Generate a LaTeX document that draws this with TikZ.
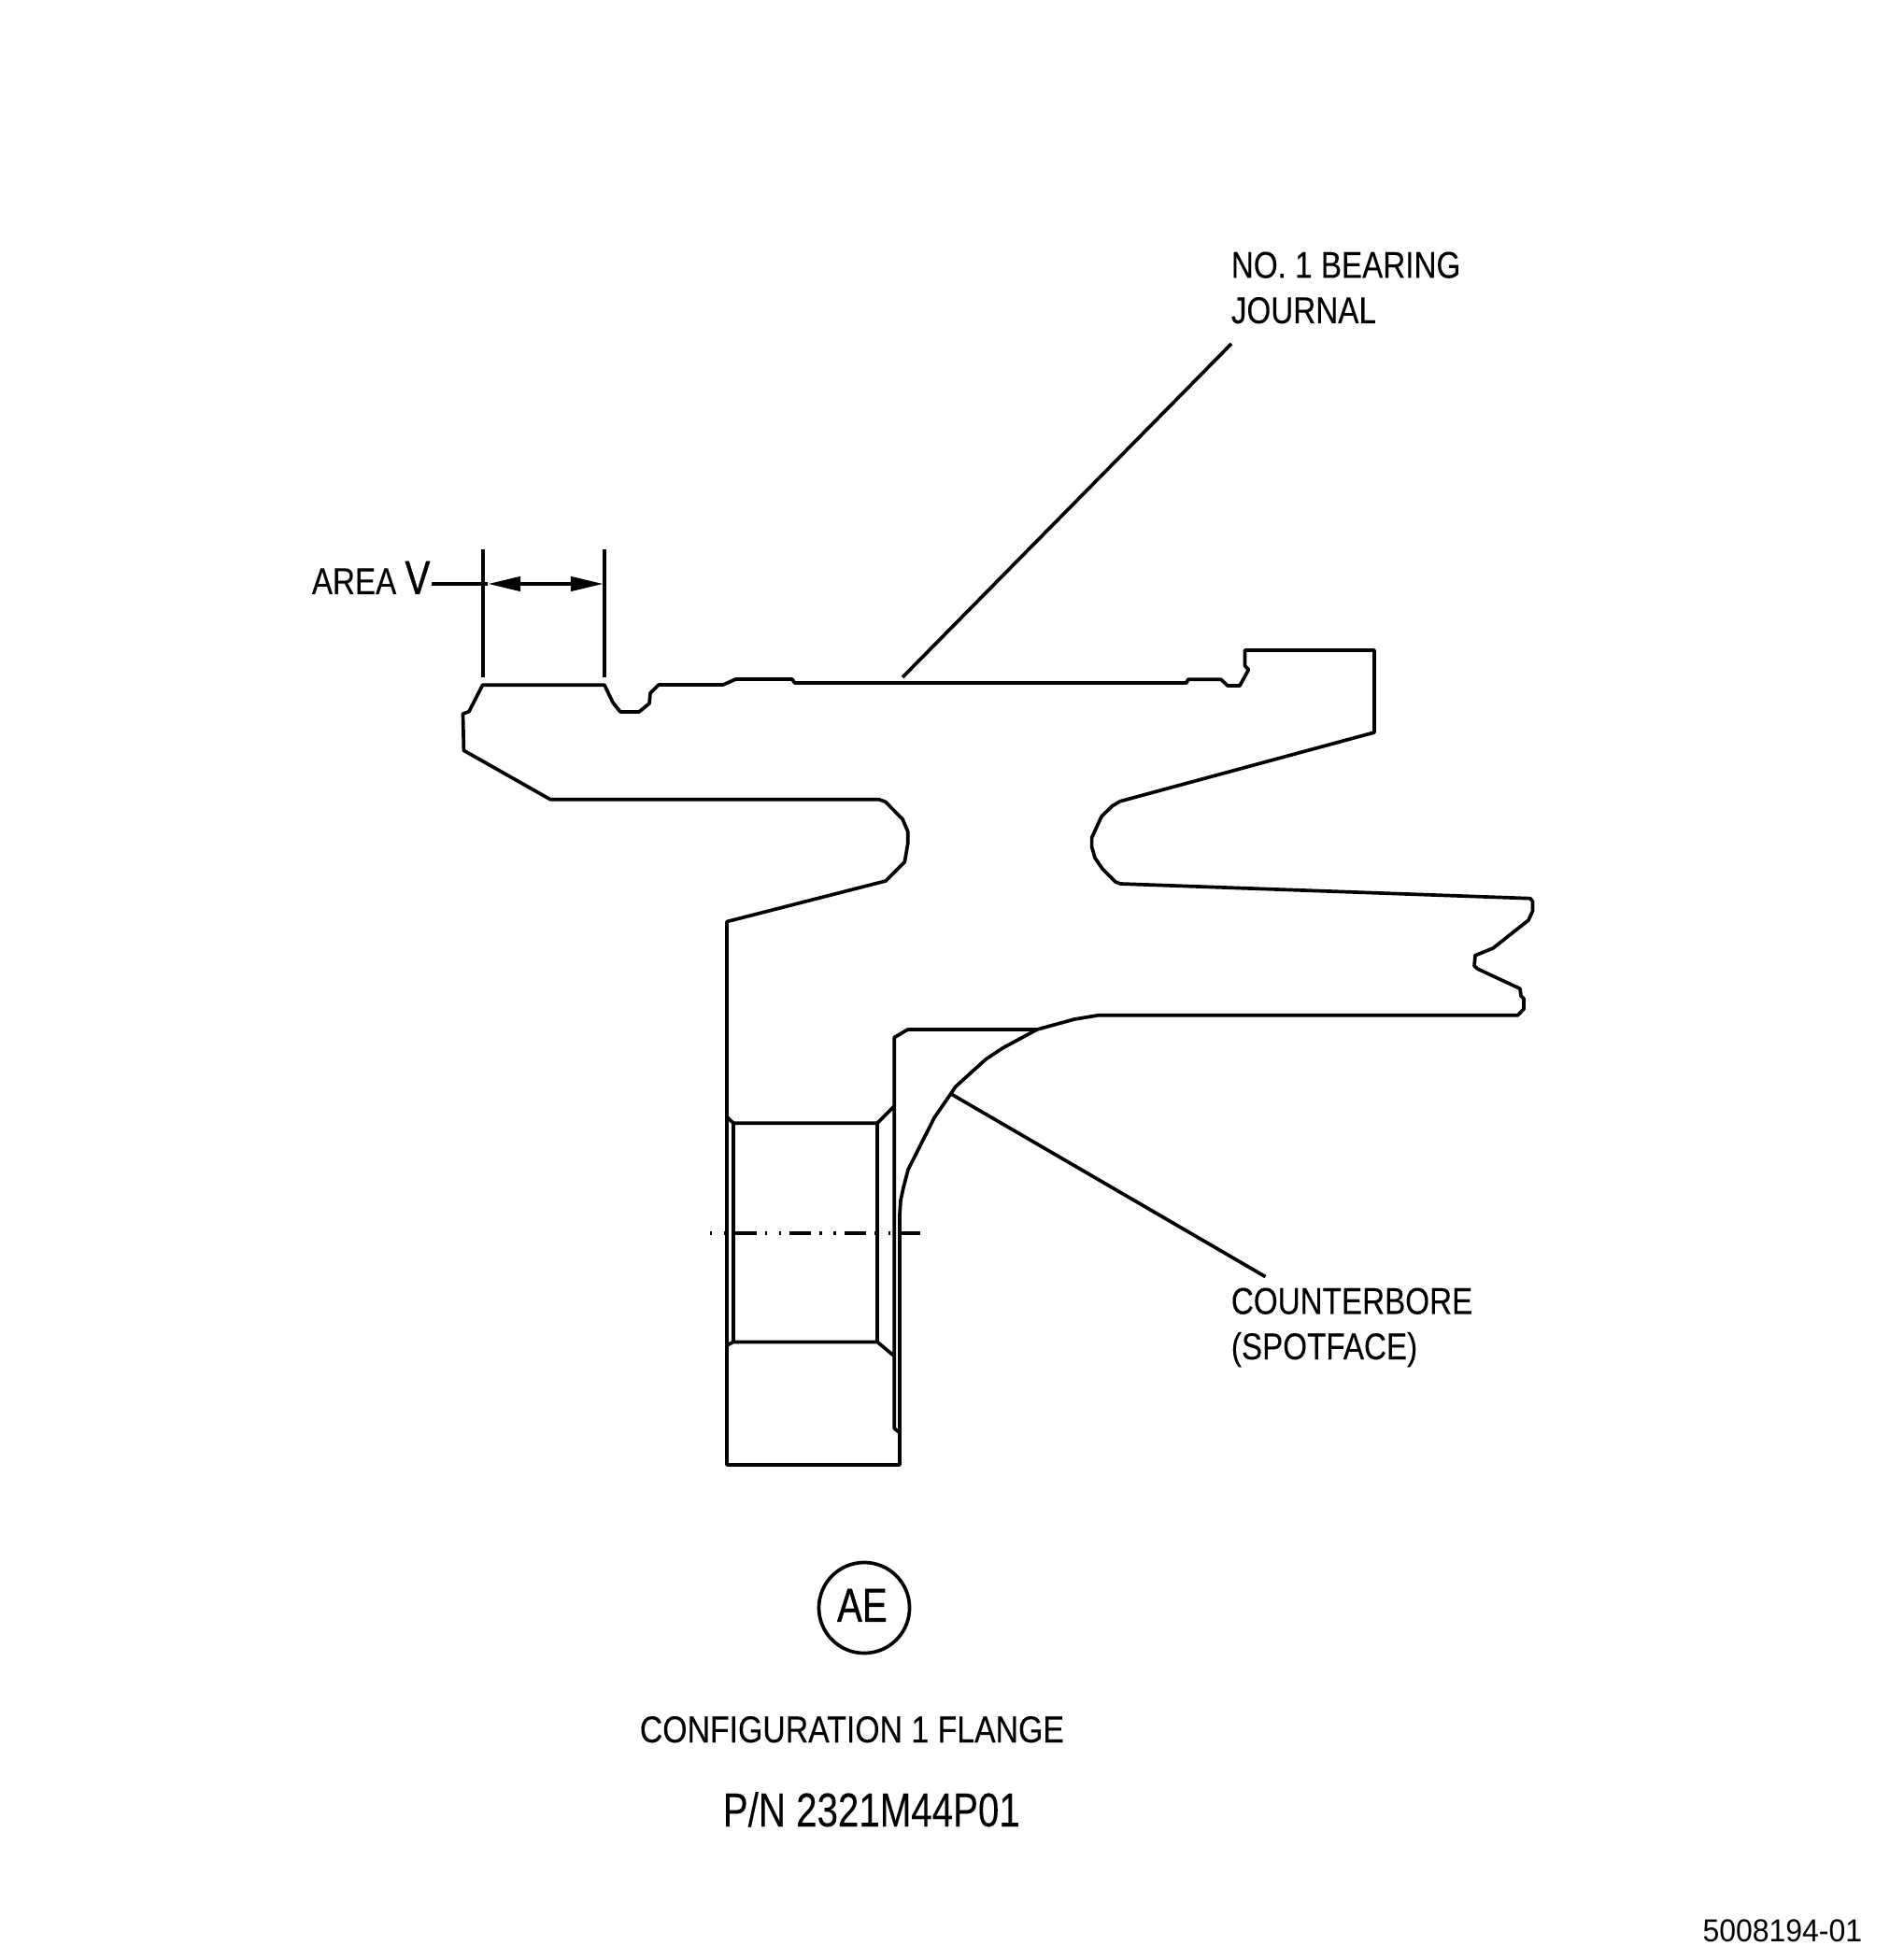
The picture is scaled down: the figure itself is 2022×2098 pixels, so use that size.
\documentclass[tikz,border=0pt]{standalone}
\usepackage{fontspec}
\usepackage{tikz}
\usetikzlibrary{arrows.meta}
\newfontfamily\drawfont{Liberation Sans}[FakeStretch=0.83,FakeBold=0.15]
\newfontfamily\flangefont{Liberation Sans}[FakeStretch=0.845,FakeBold=0.15]
\newfontfamily\partfont{Liberation Sans}[FakeStretch=0.79,FakeBold=0.1]
\newfontfamily\markfont{Liberation Sans}[FakeStretch=0.79,FakeBold=0.8]
\newfontfamily\figfont{Liberation Sans}[FakeStretch=0.94]
\newcommand{\notefont}{\drawfont\fontsize{11.38}{13.8}\selectfont}
\newcommand{\bigfont}{\partfont\fontsize{14.5}{17}\selectfont}
\newcommand{\tagfont}{\markfont\fontsize{14.5}{17}\selectfont}

\begin{document}
\begin{tikzpicture}[x=0.01cm,y=-0.01cm,line width=1.05pt,line join=round,
	note/.style={inner sep=0pt,anchor=base west,align=left,font=\notefont},
	dimtip/.style={{Triangle[length=3.5mm,width=1.5mm]}-{Triangle[length=3.5mm,width=1.5mm]}},
	heavy/.style={line width=1.4pt},
	centre/.style={line width=1pt,dash pattern=on 0.7pt off 3.5pt on 0.7pt off 2.6pt on 6.6pt off 2.6pt}]
	
	\useasboundingbox (0,0) rectangle (2022,2098);
	
	% flange section
	\draw (516.5,733.3) -- (647,733.3) -- (656,752) -- (664,762) -- (684,762) -- (695,753) -- (696,742) -- (705,733)
	-- (774,733) -- (787.5,727) -- (848,727) -- (850.5,731) -- (1270,731) -- (1271.6,727.3) -- (1307,727.3)
	-- (1314,734) -- (1327,734) -- (1336.5,716.7) -- (1332.5,712.7) -- (1332.5,696) -- (1471,696) -- (1471,784)
	-- (1199,857.7) -- (1190.5,862.7) -- (1179,874) -- (1168.6,896.7) -- (1168.6,906.7) -- (1172,918.3)
	-- (1180,930) -- (1194,944) -- (1199,946) -- (1638,961.7) -- (1640.5,965) -- (1640.5,975) -- (1636,985)
	-- (1598,1015) -- (1579,1022.7) -- (1578,1034) -- (1582,1037.3) -- (1627,1058.3) -- (1628,1066) -- (1631,1069)
	-- (1631,1080) -- (1624.6,1086.7) -- (1176,1086.7) -- (1150,1091) -- (1110,1102) -- (1073,1122) -- (1055,1134)
	-- (1023,1163) -- (1000,1196.5) -- (972,1252) -- (967,1271) -- (964,1285) -- (963,1300) -- (963,1568) -- (778,1568)
	-- (778,986.5) -- (948,943) -- (968.3,922.7) -- (971.7,903) -- (971.7,890) -- (966,876.7) -- (947.7,858.3)
	-- (940.7,855.7) -- (589,855.7) -- (496.4,803.3) -- (495.5,764) -- (502,761.7) -- cycle;
	
	% counterbore
	\draw (1110,1102) -- (971.7,1102) -- (957.3,1110.4) -- (957.3,1529) -- (964,1534.4);
	\draw[heavy] (963,1300) -- (963,1568);
	
	% hole
	\draw (778,1195.5) -- (785,1202.3) -- (939,1202.3) -- (957.3,1184);
	\draw (778,1440) -- (785,1436.4) -- (939,1436.4) -- (957.3,1451.6);
	\draw (785,1202.3) -- (785,1436.4);
	\draw[heavy] (939,1202.3) -- (939,1436.4);
	\draw[centre] (760,1320) -- (985,1320);
	
	% area limits
	\foreach \x in {517,647}
	{
		\draw (\x,588) -- (\x,725);
	}
	
	\node[note] (areav) at (332,636) {AREA {\tagfont V}};
	\coordinate (dimleft) at (522,625);
	\coordinate (dimright) at (646,625);
	\draw (areav.east |- dimleft) -- (dimleft);
	\draw[dimtip,line width=1.2pt] (dimleft) -- (dimright);
	
	\node[note] (journal) at (1316,346) {NO. 1 BEARING\\JOURNAL};
	\coordinate (journalstart) at (1318,368);
	\coordinate (journalend) at (966,725);
	\draw (journalstart) -- (journalend);
	
	\node[note] (counterbore) at (1316,1455) {COUNTERBORE\\(SPOTFACE)};
	\coordinate (borestart) at (1354.5,1366.6);
	\coordinate (boreend) at (1018,1171);
	\draw (borestart) -- (boreend);
	
	\node[draw,circle,inner sep=0pt,minimum size=0.97cm,font=\tagfont] (config) at (925,1721) {\hspace{-1.2pt}\raisebox{1.5pt}{AE}};
	\node[note,font=\flangefont\fontsize{11.38}{13.8}\selectfont] (flange) at (683,1865) {CONFIGURATION 1 FLANGE};
	\node[inner sep=0pt,anchor=base west,font=\bigfont] (partno) at (772,1955) {P/N 2321M44P01};
	\node[inner sep=0pt,anchor=base east,font=\figfont\fontsize{9.67}{11}\selectfont] (figno) at (1995,2078) {5008194-01};
	\end{tikzpicture}
\end{document}
